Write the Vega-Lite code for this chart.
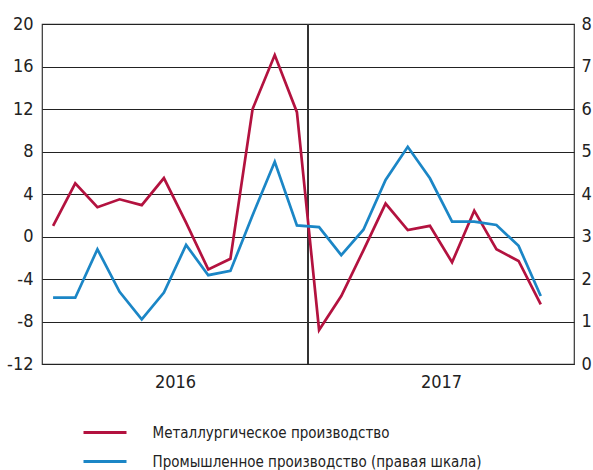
{
  "$schema": "https://vega.github.io/schema/vega-lite/v6.json",
  "width": 532,
  "height": 340,
  "autosize": {"type": "none"},
  "padding": {"left": 42, "top": 24, "right": 19, "bottom": 106},
  "background": "white",
  "config": {
    "font": "DejaVu Sans Condensed, Roboto, sans-serif",
    "view": {"stroke": "#333333", "strokeWidth": 1.2},
    "axis": {"labelFont": "DejaVu Sans Condensed, Roboto, sans-serif", "labelFontSize": 18, "labelColor": "#222222", "ticks": false, "domain": false, "title": null},
    "legend": {"labelFont": "DejaVu Sans Condensed, Roboto, sans-serif"}
  },
  "data": {"values": [
    {"m": 1, "month": "2016-01", "metal": 1.0, "ind": 1.56},
    {"m": 2, "month": "2016-02", "metal": 5.0, "ind": 1.56},
    {"m": 3, "month": "2016-03", "metal": 2.75, "ind": 2.7},
    {"m": 4, "month": "2016-04", "metal": 3.5, "ind": 1.7},
    {"m": 5, "month": "2016-05", "metal": 2.95, "ind": 1.05},
    {"m": 6, "month": "2016-06", "metal": 5.5, "ind": 1.68},
    {"m": 7, "month": "2016-07", "metal": 1.3, "ind": 2.8},
    {"m": 8, "month": "2016-08", "metal": -3.1, "ind": 2.09},
    {"m": 9, "month": "2016-09", "metal": -2.1, "ind": 2.19},
    {"m": 10, "month": "2016-10", "metal": 12.0, "ind": 3.5},
    {"m": 11, "month": "2016-11", "metal": 17.08, "ind": 4.76},
    {"m": 12, "month": "2016-12", "metal": 11.7, "ind": 3.26},
    {"m": 13, "month": "2017-01", "metal": -8.8, "ind": 3.22},
    {"m": 14, "month": "2017-02", "metal": -5.6, "ind": 2.56},
    {"m": 15, "month": "2017-03", "metal": -1.3, "ind": 3.16},
    {"m": 16, "month": "2017-04", "metal": 3.1, "ind": 4.33},
    {"m": 17, "month": "2017-05", "metal": 0.6, "ind": 5.11},
    {"m": 18, "month": "2017-06", "metal": 1.0, "ind": 4.37},
    {"m": 19, "month": "2017-07", "metal": -2.43, "ind": 3.35},
    {"m": 20, "month": "2017-08", "metal": 2.43, "ind": 3.35},
    {"m": 21, "month": "2017-09", "metal": -1.2, "ind": 3.27},
    {"m": 22, "month": "2017-10", "metal": -2.3, "ind": 2.78},
    {"m": 23, "month": "2017-11", "metal": -6.38, "ind": 1.6}
  ]},
  "encoding": {
    "x": {
      "field": "m", "type": "quantitative",
      "scale": {"domain": [0.5, 24.5], "nice": false, "zero": false},
      "axis": {"values": [6.5, 18.5], "labelExpr": "datum.value < 12 ? '2016' : '2017'", "grid": false, "labelPadding": 9}
    },
    "color": {
      "type": "nominal",
      "scale": {"domain": ["Металлургическое производство", "Промышленное производство (правая шкала)"], "range": ["#B3123F", "#1B86C6"]},
      "legend": {"orient": "none", "legendX": 51.5, "legendY": 397, "direction": "vertical", "title": null, "symbolType": "M-2.15,0H2.15", "symbolSize": 400, "symbolStrokeWidth": 2.8, "labelFontSize": 15, "labelColor": "#222222", "labelOffset": 36, "labelLimit": 500, "rowPadding": 9}
    }
  },
  "layer": [
    {
      "mark": {"type": "rule", "color": "#333333", "strokeWidth": 1.2},
      "encoding": {"x": {"datum": 12.5, "type": "quantitative"}, "color": null}
    },
    {
      "mark": {"type": "line", "strokeWidth": 2.7},
      "encoding": {
        "y": {
          "field": "metal", "type": "quantitative",
          "scale": {"domain": [-12, 20], "nice": false, "zero": false},
          "axis": {"orient": "left", "values": [-12, -8, -4, 0, 4, 8, 12, 16, 20], "labelExpr": "'' + datum.value", "grid": true, "gridColor": "#222222", "gridWidth": 1.2, "gridOpacity": 1, "labelPadding": 9}
        },
        "color": {"datum": "Металлургическое производство", "type": "nominal"}
      }
    },
    {
      "mark": {"type": "line", "strokeWidth": 2.7},
      "encoding": {
        "y": {
          "field": "ind", "type": "quantitative",
          "scale": {"domain": [0, 8], "nice": false, "zero": false},
          "axis": {"orient": "right", "values": [0, 1, 2, 3, 4, 5, 6, 7, 8], "grid": false, "labelPadding": 7}
        },
        "color": {"datum": "Промышленное производство (правая шкала)", "type": "nominal"}
      }
    }
  ],
  "resolve": {"scale": {"y": "independent"}}
}
